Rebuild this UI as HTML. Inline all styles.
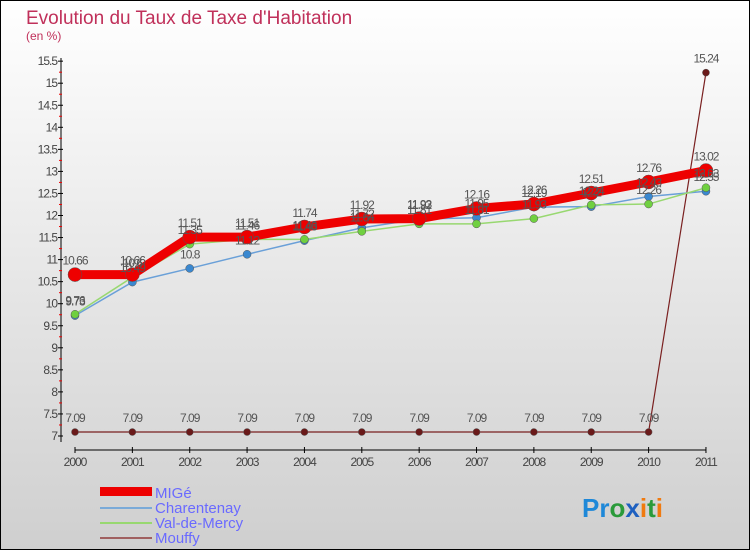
<!DOCTYPE html>
<html><head><meta charset="utf-8"><style>
body{margin:0;width:750px;height:550px;overflow:hidden;font-family:"Liberation Sans",sans-serif}
svg text{font-family:"Liberation Sans",sans-serif}
</style></head><body>
<svg id="c" width="750" height="550" viewBox="0 0 750 550">
<defs><linearGradient id="bg" x1="0" y1="0" x2="0" y2="1"><stop offset="0" stop-color="#ffffff"/><stop offset="1" stop-color="#cfcfcf"/></linearGradient></defs>
<rect x="0.5" y="0.5" width="749" height="549" fill="url(#bg)" stroke="#000"/>
<text x="26" y="24" font-size="19" fill="#c0305a">Evolution du Taux de Taxe d'Habitation</text>
<text x="26" y="40" font-size="12" fill="#c0305a">(en %)</text>
<g id="axes"></g><g id="series"></g><g id="labels"></g>
<g>
<rect x="100" y="487" width="52" height="9" fill="#e00"/>
<text x="155" y="498" font-size="15" fill="#6a6aff">MIGé</text>
<line x1="100" y1="508" x2="152" y2="508" stroke="#7aaad8" stroke-width="2"/>
<text x="155" y="513" font-size="15" fill="#6a6aff">Charentenay</text>
<line x1="100" y1="523" x2="152" y2="523" stroke="#98d870" stroke-width="2"/>
<text x="155" y="528" font-size="15" fill="#6a6aff">Val-de-Mercy</text>
<line x1="100" y1="538" x2="152" y2="538" stroke="#a06060" stroke-width="2"/>
<text x="155" y="543" font-size="15" fill="#6a6aff">Mouffy</text>
</g>
<g font-size="26" font-weight="bold">
<text x="582" y="517"><tspan fill="#1e88d8">Pr</tspan><tspan fill="#2a9a3a">o</tspan><tspan fill="#1e60c0">x</tspan><tspan fill="#f07a10">i</tspan><tspan fill="#2a9a3a">t</tspan><tspan fill="#f07a10">i</tspan></text>
</g>
</svg>
<script>
const years=["2000","2001","2002","2003","2004","2005","2006","2007","2008","2009","2010","2011"];
const mige=[10.66,10.66,11.51,11.51,11.74,11.92,11.93,12.16,12.26,12.51,12.76,13.02];
const charentenay=[9.73,10.49,10.8,11.12,11.43,11.72,11.92,11.95,12.19,12.2,12.43,12.55];
const valDeMercy=[9.76,10.6,11.35,11.46,11.46,11.64,11.81,11.81,11.93,12.24,12.26,12.63];
const mouffy=[7.09,7.09,7.09,7.09,7.09,7.09,7.09,7.09,7.09,7.09,7.09,15.24];
const yTicks=["7","7.5","8","8.5","9","9.5","10","10.5","11","11.5","12","12.5","13","13.5","14","14.5","15","15.5"];
const NS="http://www.w3.org/2000/svg";
const X=i=>75+i*57.36, Y=v=>436-(v-7)*44.1;
function mk(p,t,a){const e=document.createElementNS(NS,t);for(const k in a)e.setAttribute(k,a[k]);p.appendChild(e);return e;}
const ax=document.getElementById('axes'),sg=document.getElementById('series'),lg=document.getElementById('labels');
let e=mk(ax,'line',{x1:61,y1:58,x2:61,y2:442,stroke:'#000'});


e=mk(ax,'line',{x1:75,y1:450,x2:706,y2:450,stroke:'#000'});


yTicks.forEach(t=>{const y=Y(+t);
 mk(ax,'line',{x1:58,y1:y,x2:63,y2:y,stroke:'#000'});
 if(+t<15.5)mk(ax,'line',{x1:59,y1:Y(+t+0.25),x2:62,y2:Y(+t+0.25),stroke:'#e00'});
 const tx=mk(ax,'text',{x:57,y:y+4,'font-size':12,fill:'#444','text-anchor':'end','letter-spacing':'-1'});tx.textContent=t;
 
 });
years.forEach((yr,i)=>{const x=X(i);
 mk(ax,'line',{x1:x,y1:447,x2:x,y2:453,stroke:'#000'});
 const tx=mk(ax,'text',{x:x,y:466,'font-size':12,fill:'#444','text-anchor':'middle','letter-spacing':'-1'});tx.textContent=yr;
 
 });
function series(name,data,color,w,r,fill){
 const pl=mk(sg,'polyline',{points:data.map((v,i)=>X(i)+','+Y(v)).join(' '),fill:'none',stroke:color,'stroke-width':w});
 
 
 data.forEach((v,i)=>{const c=mk(sg,'circle',{cx:X(i),cy:Y(v),r:r,fill:fill,stroke:'#555','stroke-width':0.5});
  
  
  const t=mk(lg,'text',{x:X(i),y:Y(v)-10,'font-size':12,fill:'#555','text-anchor':'middle','letter-spacing':'-1'});t.textContent=String(v);
  
  });
}
series('mouffy',mouffy,'#7a2020',1.2,3.5,'#6a1a1a');
series('charentenay',charentenay,'#6aa0d8',1.5,4,'#3a88d0');
series('val-de-mercy',valDeMercy,'#98d870',1.5,4,'#70d040');
series('mige',mige,'#ee0000',9,7,'#e00');
</script>
</body></html>
